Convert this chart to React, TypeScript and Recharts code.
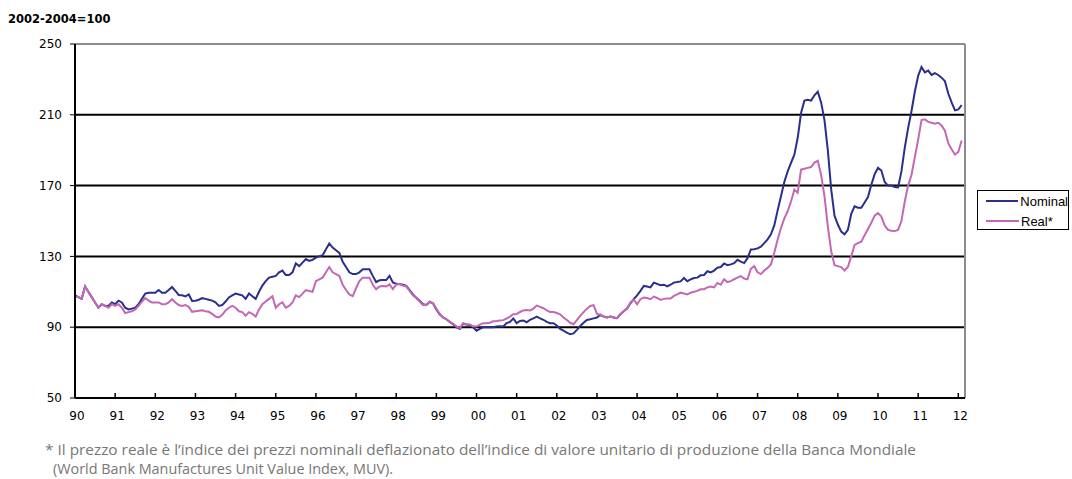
import React from "react"
import { LineChart, Line, XAxis, YAxis, ReferenceLine } from "recharts"

// monthly index, Jan 1990 .. Feb 2012 (2002-2004=100)
const nominal = [
  108, 107, 106, 113, 110, 107, 104, 101, 103, 102, 102, 104, // 1990
  103, 105, 104, 101, 100, 100.5, 101, 103, 106, 109, 109.5, 109.5, // 1991
  109.5, 111, 109.5, 109.5, 111, 112.7, 110.5, 108.2, 108, 107.4, 108.5, 104.8, // 1992
  105, 105.5, 106.4, 106, 105.5, 105, 104, 102, 102.5, 104.5, 106.8, 108, // 1993
  109, 108.5, 108, 106, 109, 107.5, 106, 110, 113.5, 116, 118, 118.5, // 1994
  119, 121, 122, 119.5, 119.5, 121, 126, 124.5, 126.5, 128.5, 127.5, 128, // 1995
  129.3, 130, 130.7, 134, 137.3, 135, 133.5, 132, 127, 124, 121, 120, // 1996
  120, 121, 122.7, 122.7, 122.7, 119, 115.5, 116.5, 116.6, 116.6, 119, 115.3, // 1997
  114.5, 114.3, 114, 113.3, 111, 108.5, 106.7, 105, 103, 102.5, 104.3, 103.5, // 1998
  100, 97.3, 95.5, 94.5, 93, 91.7, 90, 89, 92, 91.5, 91.2, 90, // 1999
  88, 89, 90, 90, 90, 90, 90.4, 90.5, 90.4, 92.3, 93, 94.9, // 2000
  92.3, 93.5, 93.8, 92.8, 94.2, 95, 96, 95, 94.2, 93, 92.3, 92.3, // 2001
  91, 89, 88, 87, 86, 86.5, 88.5, 90.7, 92.5, 94.1, 94.5, 95, // 2002
  95.5, 97, 96, 95.5, 96, 95.5, 95.1, 97.3, 99, 100.5, 103.5, 105.8, // 2003
  108, 110.5, 113.3, 113, 112.5, 115.2, 114.5, 113.7, 114, 113, 114, 115.2, // 2004
  115.5, 115.9, 117.8, 116, 117, 117.8, 118, 119.3, 119.5, 121.6, 121, 122, // 2005
  123.6, 124, 126, 125, 125.5, 126.2, 128.1, 127, 126.2, 129, 133.9, 134, // 2006
  134.5, 135.5, 137.5, 139.6, 142.5, 147.5, 156, 164, 172, 178, 182.8, 187.5, // 2007
  197, 211, 218, 218.5, 218, 221, 223, 217, 207, 190, 168, 153, // 2008
  148, 144, 142.5, 145, 154, 158.3, 157.5, 157.5, 160.5, 163.5, 170.5, 176.5, // 2009
  180, 178.5, 172, 170, 170, 169.2, 169, 178, 191.5, 202.5, 212, 223, // 2010
  232, 237, 234, 235, 232.5, 233.5, 232.5, 231, 229, 222, 217, 212.5, // 2011
  213, 215.5, // 2012
]

const real = [
  107, 107, 106, 113, 110, 107, 104, 101, 103, 102, 101, 103, // 1990
  102, 103, 101, 98, 98.5, 99, 100, 102, 104.5, 106.5, 105, 104, // 1991
  104, 104, 103, 103, 104, 105.8, 104, 102.5, 102, 102.5, 101.5, 98.7, // 1992
  99, 99.3, 99.5, 99, 98.7, 97.5, 96, 95.5, 97, 99.5, 101, 102, // 1993
  101, 99, 98.5, 96.5, 98.5, 97.5, 96, 100, 103, 104.5, 106, 107.5, // 1994
  101, 103, 104, 101, 102, 104, 108, 107, 109, 111, 110.5, 110, // 1995
  116, 117, 118, 121, 124, 121, 120, 119, 114, 111, 108.5, 107.5, // 1996
  112, 116, 118, 118, 118, 114, 111.4, 113, 113.3, 113, 114.2, 111.5, // 1997
  114, 114.5, 113.5, 113, 110.5, 108, 106.5, 104.5, 102.5, 102.5, 104.5, 103.5, // 1998
  100.5, 97.5, 95.5, 94.5, 93, 92, 90.5, 89.5, 92.3, 91.5, 91.5, 90.5, // 1999
  90.4, 91.5, 92.3, 92.3, 92.5, 93.4, 93.5, 93.8, 94, 94.9, 96, 97.3, // 2000
  97.5, 98.6, 99.5, 99.7, 99.5, 100.5, 102.2, 101.5, 100.7, 99.5, 98.6, 98.6, // 2001
  98, 97.3, 95.5, 94.1, 92.5, 91.7, 94, 96.4, 98.5, 100.5, 102, 102.4, // 2002
  97.5, 97, 96, 95.5, 96, 95.5, 95.1, 97.3, 99, 100.5, 104, 105.5, // 2003
  103, 105.8, 106.8, 106.5, 105.8, 107.3, 106.5, 105.4, 106, 106.2, 106.2, 107.7, // 2004
  108.5, 109.5, 109, 108.5, 109.5, 110, 110.5, 111.4, 111.5, 112.5, 113, 112.5, // 2005
  115, 114, 117.1, 115.5, 116, 117.1, 118, 118.9, 117.5, 117, 123, 124.5, // 2006
  121, 120, 122, 123.5, 125.5, 132, 139.6, 146, 151.5, 155.5, 161, 167.7, // 2007
  166, 179, 179.5, 180, 180.5, 183, 184, 176, 164, 147, 133, 125, // 2008
  124.5, 124, 122, 124, 130, 136.5, 137.5, 138.3, 142, 145.5, 149, 153, // 2009
  154.5, 152.5, 147.5, 145, 144.5, 144.3, 145, 150, 161, 170, 176, 186, // 2010
  196, 207, 207.5, 206, 205.5, 205, 205.5, 204, 201, 194, 190.5, 187.5, // 2011
  189, 195.5, // 2012
]

const yearLabels = ["90", "91", "92", "93", "94", "95", "96", "97", "98", "99", "00", "01", "02", "03", "04", "05", "06", "07", "08", "09", "10", "11", "12"]
const yTicks = [50, 90, 130, 170, 210, 250]
const gridValues = [90, 130, 170, 210]

const NOMINAL_COLOR = "#2B2E8C"
const REAL_COLOR = "#C467B5"
const AXIS_FONT = "'DejaVu Sans', sans-serif"

const data = nominal.map((v, i) => ({ m: i, nominal: v, real: real[i] }))
const xTicks = yearLabels.map((_, i) => i * 12)

function YearTick(props: any) {
  const { x, y, payload } = props
  return (
    <g>
      <line x1={x} x2={x} y1={y - 5} y2={y} stroke="#000" strokeWidth={1.5} />
      <text x={x + 2} y={y + 22} textAnchor="middle" fontSize={12} fontFamily={AXIS_FONT} fill="#000">
        {yearLabels[payload.value / 12]}
      </text>
    </g>
  )
}

function LegendBox() {
  const item = (color: string, label: string) => (
    <div style={{ display: "flex", alignItems: "center", height: 20 }}>
      <div style={{ width: 33, height: 2, background: color, marginRight: 2 }} />
      <span>{label}</span>
    </div>
  )
  return (
    <div
      style={{
        position: "absolute", left: 977, top: 190, width: 92, height: 40,
        border: "1px solid #000", boxSizing: "border-box", background: "#fff",
        fontFamily: "'Liberation Sans', Arial, sans-serif", fontSize: 13, color: "#000",
        paddingLeft: 8, paddingTop: 0,
      }}
    >
      {item(NOMINAL_COLOR, "Nominal")}
      {item(REAL_COLOR, "Real*")}
    </div>
  )
}

export default function App() {
  return (
    <div style={{ position: "absolute", left: 0, top: 0, width: 1072, height: 479, background: "#fff", overflow: "hidden" }}>
      <LineChart width={1072} height={479} data={data} margin={{ top: 44, right: 107, bottom: 51, left: 35 }}>
        <XAxis
          dataKey="m" type="number" domain={[0, 266]} ticks={xTicks} interval={0}
          tick={<YearTick />} tickLine={false} tickSize={0} tickMargin={0} height={30}
          axisLine={{ stroke: "#000", strokeWidth: 2 }}
        />
        <YAxis
          domain={[50, 250]} ticks={yTicks} interval={0} width={40}
          tickSize={5} tickMargin={8}
          tickLine={{ stroke: "#000" }}
          axisLine={{ stroke: "#000", strokeWidth: 2 }}
          tick={{ fontSize: 12, fill: "#000", fontFamily: AXIS_FONT }}
        />
        {gridValues.map((v) => (
          <ReferenceLine key={v} y={v} stroke="#000" strokeWidth={2} />
        ))}
        <ReferenceLine y={250} stroke="#8c8c8c" strokeWidth={2} />
        <ReferenceLine x={266} stroke="#8c8c8c" strokeWidth={2} />
        <Line type="linear" dataKey="nominal" stroke={NOMINAL_COLOR} strokeWidth={2} dot={false} isAnimationActive={false} />
        <Line type="linear" dataKey="real" stroke={REAL_COLOR} strokeWidth={2} dot={false} isAnimationActive={false} />
      </LineChart>
      <LegendBox />
      <svg width={1072} height={479} style={{ position: "absolute", left: 0, top: 0, pointerEvents: "none" }}>
        <text x={8} y={23} fontFamily={AXIS_FONT} fontWeight="bold" fontSize={11.5} fill="#000">2002-2004=100</text>
        <text x={45} y={455} fontFamily="'Open Sans', sans-serif" fontSize={15} fill="#777" textLength={871} lengthAdjust="spacingAndGlyphs">
          * Il prezzo reale è l’indice dei prezzi nominali deflazionato dell’indice di valore unitario di produzione della Banca Mondiale
        </text>
        <text x={53} y={474} fontFamily="'Open Sans', sans-serif" fontSize={15} fill="#777" textLength={340} lengthAdjust="spacingAndGlyphs">
          (World Bank Manufactures Unit Value Index, MUV).
        </text>
      </svg>
    </div>
  )
}
